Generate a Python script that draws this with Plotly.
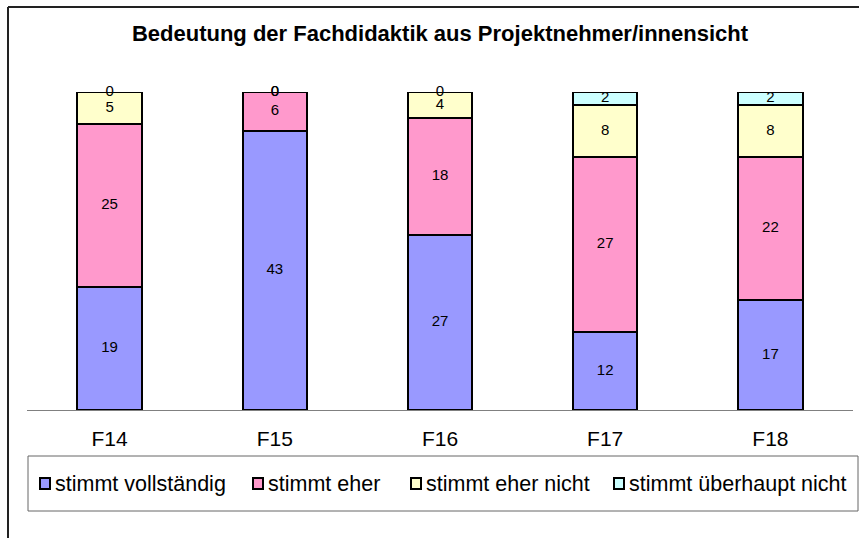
import plotly.graph_objects as go

categories = ["F14", "F15", "F16", "F17", "F18"]
series_names = ["stimmt vollständig", "stimmt eher", "stimmt eher nicht", "stimmt überhaupt nicht"]
vollstaendig = [19, 43, 27, 12, 17]
eher = [25, 6, 18, 27, 22]
eher_nicht = [5, 0, 4, 8, 8]
ueberhaupt_nicht = [0, 0, 0, 2, 2]
series_values = [vollstaendig, eher, eher_nicht, ueberhaupt_nicht]
colors = ["#9999FF", "#FF99CC", "#FFFFCC", "#CCFFFF"]
title_text = "Bedeutung der Fachdidaktik aus Projektnehmer/innensicht"

W, H = 859, 538
ML, MR, MT, MB = 27, 6, 92, 128
PW = W - ML - MR
PH = H - MT - MB
FONT = "Liberation Sans, Arial, sans-serif"


def px_x(p):
    return (p - ML) / PW


def px_y(p):
    return (H - MB - p) / PH


fig = go.Figure()
for name, vals, col in zip(series_names, series_values, colors):
    fig.add_trace(go.Bar(
        x=categories, y=vals, name=name,
        marker=dict(color=col, line=dict(color="black", width=2)),
        showlegend=False, hoverinfo="x+y+name",
    ))

# data labels at segment midpoints
totals = [0] * len(categories)
lab_x, lab_y, lab_t = [], [], []
for vals in series_values:
    for i, v in enumerate(vals):
        lab_x.append(categories[i])
        lab_y.append(totals[i] + v / 2)
        lab_t.append(str(v))
        totals[i] += v
fig.add_trace(go.Scatter(
    x=lab_x, y=lab_y, text=lab_t, mode="text",
    textfont=dict(family=FONT, size=15, color="black"),
    textposition="middle center", showlegend=False, hoverinfo="skip",
    cliponaxis=False,
))

shapes = []
annotations = []
# outer frame (left and top edges visible)
shapes.append(dict(type="line", xref="paper", yref="paper",
                   x0=px_x(8), x1=px_x(8), y0=px_y(7), y1=px_y(560),
                   line=dict(color="#222222", width=2)))
shapes.append(dict(type="line", xref="paper", yref="paper",
                   x0=px_x(8), x1=px_x(880), y0=px_y(7), y1=px_y(7),
                   line=dict(color="#222222", width=2)))
# legend box
shapes.append(dict(type="rect", xref="paper", yref="paper",
                   x0=px_x(28), x1=px_x(858), y0=px_y(456), y1=px_y(511),
                   line=dict(color="#666666", width=1), fillcolor="white"))
marker_left = [40, 253, 411, 614]
for name, col, ml in zip(series_names, colors, marker_left):
    shapes.append(dict(type="rect", xref="paper", yref="paper",
                       x0=px_x(ml), x1=px_x(ml + 10), y0=px_y(478), y1=px_y(489),
                       line=dict(color="black", width=2), fillcolor=col))
    annotations.append(dict(text=name, xref="paper", yref="paper",
                            x=px_x(ml + 13), y=px_y(483.5), xanchor="left", yanchor="middle",
                            showarrow=False, font=dict(family=FONT, size=21.5, color="black")))

fig.update_layout(
    width=W, height=H,
    margin=dict(l=ML, r=MR, t=MT, b=MB),
    paper_bgcolor="white", plot_bgcolor="white",
    barmode="stack", bargap=0.61,
    title=dict(text="<b>" + title_text + "</b>", x=0.5, xref="paper", xanchor="center",
               y=1 - 33 / H, yref="container", yanchor="middle",
               font=dict(family=FONT, size=22, color="black")),
    xaxis=dict(showline=True, linecolor="#808080", linewidth=1, ticks="",
               ticklabelstandoff=10,
               tickfont=dict(family=FONT, size=21, color="black"), showgrid=False,
               zeroline=False, fixedrange=True),
    yaxis=dict(range=[0, max(totals)], visible=False, showgrid=False, zeroline=False,
               fixedrange=True),
    shapes=shapes, annotations=annotations,
    font=dict(family=FONT),
)

fig.write_html("out.html", config={"displayModeBar": False},
               post_script="document.body.style.margin='0';document.body.style.overflow='hidden';")
